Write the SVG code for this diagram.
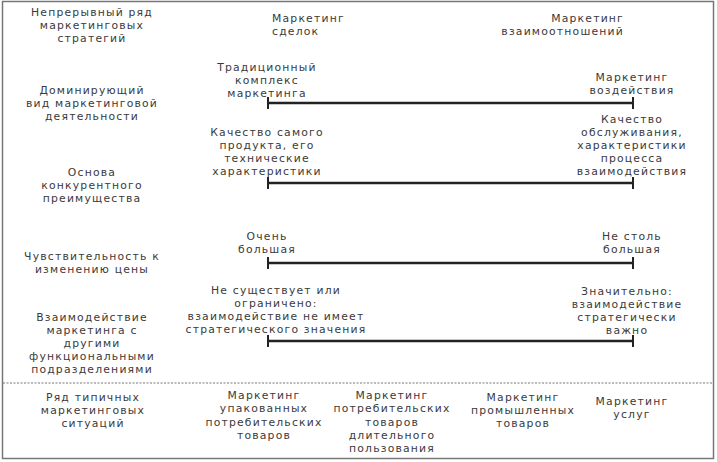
<svg xmlns="http://www.w3.org/2000/svg" width="717" height="462" viewBox="0 0 717 462">
<style>
text{font-family:"DejaVu Sans","Liberation Sans",sans-serif;font-size:10.8px;fill:#3a3a3a;text-anchor:middle;letter-spacing:1.2px}
.s{text-anchor:start}
.e{text-anchor:end}
.bar{stroke:#222;stroke-width:2.5;fill:none}
.tick{stroke:#222;stroke-width:2;fill:none}
</style>
<rect x="2.5" y="1.5" width="711" height="457" fill="#fff" stroke="#777" stroke-width="1.5"/>
<g id="header-left"><text x="92" y="16">Непрерывный ряд</text><text x="92" y="29">маркетинговых</text><text x="92" y="42">стратегий</text></g>
<g id="header-deals"><text class="s" x="272" y="22">Маркетинг</text><text class="s" x="272" y="35">сделок</text></g>
<g id="header-relations"><text class="e" x="624" y="22">Маркетинг</text><text class="e" x="624" y="35">взаимоотношений</text></g>
<g id="row1-label"><text x="92" y="94">Доминирующий</text><text x="92" y="107">вид маркетинговой</text><text x="92" y="120">деятельности</text></g>
<g id="row1-left"><text x="267" y="71">Традиционный</text><text x="267" y="84">комплекс</text><text x="267" y="97">маркетинга</text></g>
<g id="row1-right"><text x="632" y="81">Маркетинг</text><text x="632" y="94">воздействия</text></g>
<g id="row2-label"><text x="92" y="176">Основа</text><text x="92" y="189">конкурентного</text><text x="92" y="202">преимущества</text></g>
<g id="row2-left"><text x="267" y="136">Качество самого</text><text x="267" y="149">продукта, его</text><text x="267" y="162">технические</text><text x="267" y="175">характеристики</text></g>
<g id="row2-right"><text x="632" y="123">Качество</text><text x="632" y="136">обслуживания,</text><text x="632" y="149">характеристики</text><text x="632" y="162">процесса</text><text x="632" y="175">взаимодействия</text></g>
<g id="row3-label"><text x="92" y="260">Чувствительность к</text><text x="92" y="273">изменению цены</text></g>
<g id="row3-left"><text x="267" y="240">Очень</text><text x="267" y="253">большая</text></g>
<g id="row3-right"><text x="632" y="240">Не столь</text><text x="632" y="253">большая</text></g>
<g id="row4-label"><text x="92" y="321">Взаимодействие</text><text x="92" y="334">маркетинга с</text><text x="92" y="347">другими</text><text x="92" y="360">функциональными</text><text x="92" y="373">подразделениями</text></g>
<g id="row4-left"><text x="276" y="294">Не существует или</text><text x="276" y="307">ограничено:</text><text x="276" y="320">взаимодействие не имеет</text><text x="276" y="333">стратегического значения</text></g>
<g id="row4-right"><text x="627" y="295">Значительно:</text><text x="627" y="308">взаимодействие</text><text x="627" y="321">стратегически</text><text x="627" y="334">важно</text></g>
<g id="connectors">
<path class="bar" d="M268 103H633M268 183H633M268 263H633M268 341H633"/>
<path class="tick" d="M268 97V109M633 97V109M268 177V189M633 177V189M268 257V269M633 257V269M268 335V347M633 335V347"/>
<line x1="3" y1="383" x2="713" y2="383" stroke="#777" stroke-width="1.2" stroke-dasharray="2,1.5"/>
</g>
<g id="bottom-label"><text x="93" y="401">Ряд типичных</text><text x="93" y="414">маркетинговых</text><text x="93" y="427">ситуаций</text></g>
<g id="bottom-packaged"><text x="264" y="399">Маркетинг</text><text x="264" y="412">упакованных</text><text x="264" y="426">потребительских</text><text x="264" y="439">товаров</text></g>
<g id="bottom-durable"><text x="392" y="399">Маркетинг</text><text x="392" y="412">потребительских</text><text x="392" y="426">товаров</text><text x="392" y="439">длительного</text><text x="392" y="452">пользования</text></g>
<g id="bottom-industrial"><text x="523" y="401">Маркетинг</text><text x="523" y="414">промышленных</text><text x="523" y="427">товаров</text></g>
<g id="bottom-services"><text x="632" y="405">Маркетинг</text><text x="632" y="418">услуг</text></g>
</svg>
